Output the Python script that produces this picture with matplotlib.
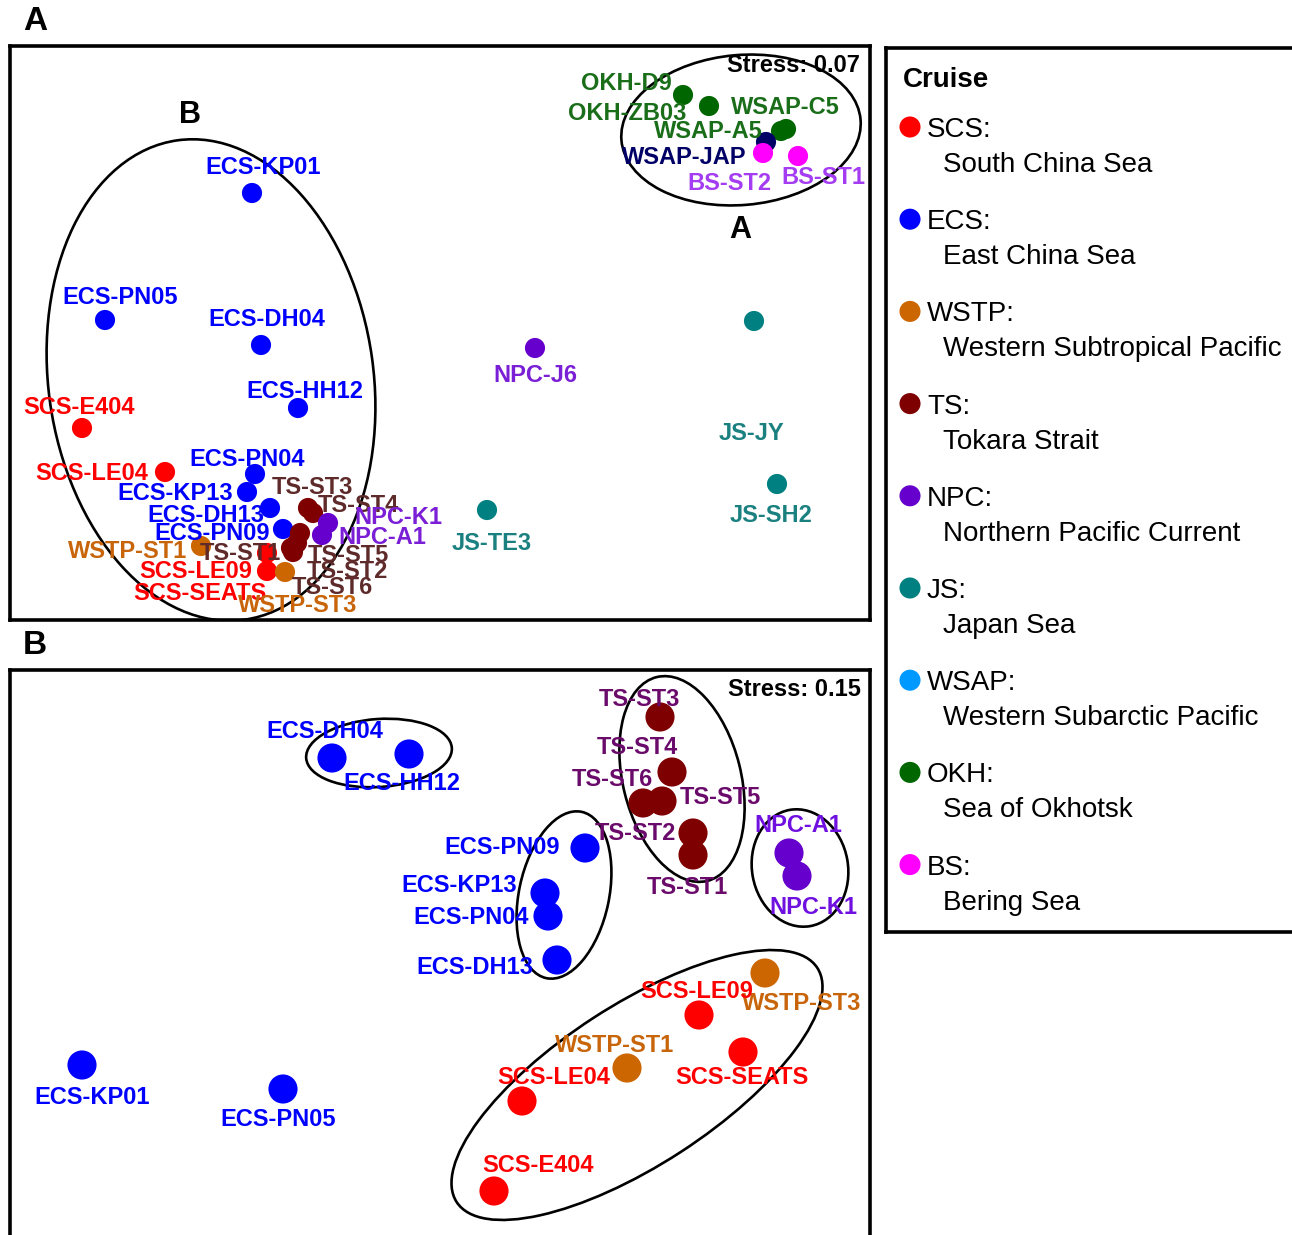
"""NMDS ordination of cruise stations: panel A (all stations) and panel B (subset),
with one shared cruise legend on the right.

Station coordinates were read off the original figure, so they are kept in the
figure's pixel frame (x to the right, y downward).
"""

import matplotlib
matplotlib.use("Agg")
from matplotlib import pyplot as plt
from matplotlib.patches import Ellipse

W, H = 1292, 1235

# ---- panel A: all stations -------------------------------------------------
A_NAMES = ["OKH-D9", "OKH-ZB03", "WSAP-C5", "WSAP-A5", "WSAP-JAP", "BS-ST2", "BS-ST1",
           "JS-JY", "JS-SH2", "JS-TE3", "NPC-J6",
           "ECS-KP01", "ECS-PN05", "ECS-DH04", "ECS-HH12", "SCS-E404", "SCS-LE04",
           "ECS-PN04", "ECS-KP13", "ECS-DH13", "ECS-PN09",
           "TS-ST3", "TS-ST4", "NPC-K1", "NPC-A1", "TS-ST5", "TS-ST2", "TS-ST6", "TS-ST1",
           "SCS-SEATS", "SCS-LE09", "WSTP-ST1", "WSTP-ST3"]
A_GROUPS = ["OKH", "OKH", "WSAP", "WSAP", "WSAP", "BS", "BS",
            "JS", "JS", "JS", "NPC",
            "ECS", "ECS", "ECS", "ECS", "SCS", "SCS",
            "ECS", "ECS", "ECS", "ECS",
            "TS", "TS", "NPC", "NPC", "TS", "TS", "TS", "TS",
            "SCS", "SCS", "WSTP", "WSTP"]
A_X = [683, 709, 786, 781, 766, 763, 798,
       754, 777, 487, 535,
       252, 105, 261, 298, 82, 165,
       255, 247, 270, 283,
       308, 313, 328, 322, 300, 297, 293, 291,
       267, 267, 201, 285]
A_Y = [95, 106, 129, 131, 142, 153, 156,
       321, 484, 510, 348,
       193, 320, 345, 408, 428, 472,
       474, 492, 508, 529,
       508, 513, 523, 535, 533, 543, 552, 548,
       553, 571, 546, 572]

# ---- panel B: subset without the northern cruises ---------------------------
B_NAMES = ["ECS-DH04", "ECS-HH12", "TS-ST3", "TS-ST4", "TS-ST6", "TS-ST5", "TS-ST2", "TS-ST1",
           "NPC-A1", "NPC-K1", "ECS-PN09", "ECS-KP13", "ECS-PN04", "ECS-DH13",
           "WSTP-ST3", "SCS-LE09", "SCS-SEATS", "WSTP-ST1", "SCS-LE04", "SCS-E404",
           "ECS-KP01", "ECS-PN05"]
B_GROUPS = ["ECS", "ECS", "TS", "TS", "TS", "TS", "TS", "TS",
            "NPC", "NPC", "ECS", "ECS", "ECS", "ECS",
            "WSTP", "SCS", "SCS", "WSTP", "SCS", "SCS",
            "ECS", "ECS"]
B_X = [332, 409, 660, 672, 643, 662, 693, 693,
       789, 797, 585, 545, 548, 557,
       765, 699, 743, 627, 522, 494,
       82, 283]
B_Y = [758, 754, 717, 772, 803, 801, 833, 855,
       853, 876, 848, 893, 916, 960,
       973, 1015, 1052, 1068, 1101, 1191,
       1065, 1089]

# ---- legend ---------------------------------------------------------------
CRUISES = ["SCS", "ECS", "WSTP", "TS", "NPC", "JS", "WSAP", "OKH", "BS"]
CRUISE_NAMES = ["South China Sea", "East China Sea", "Western Subtropical Pacific",
                "Tokara Strait", "Northern Pacific Current", "Japan Sea",
                "Western Subarctic Pacific", "Sea of Okhotsk", "Bering Sea"]

# cruise -> dot colour
DOT_COLORS = {"SCS": "#ff0000", "ECS": "#0000ff", "WSTP": "#cc6600", "TS": "#7f0000",
              "NPC": "#6600cc", "JS": "#008080", "WSAP": "#0099ff", "OKH": "#006600",
              "BS": "#ff00ff"}
# a few stations were drawn in a colour other than their cruise colour
DOT_OVERRIDE = {"WSAP-C5": "#006600", "WSAP-A5": "#006600", "WSAP-JAP": "#000066"}

LABEL_COLORS_A = {"SCS": "#ff0000", "ECS": "#0000ff", "WSTP": "#c8650a", "TS": "#5e2a2a",
                  "NPC": "#7a1fd6", "JS": "#1a8080", "WSAP": "#1a6e1a", "OKH": "#1a6e1a",
                  "BS": "#a43cf2"}
LABEL_COLORS_B = dict(LABEL_COLORS_A, TS="#6a0a6a", NPC="#7010e0")
LABEL_OVERRIDE = {"WSAP-JAP": "#000066"}

# label centre relative to its dot (pixels, y downward)
A_LABEL_OFFSET = {
    "OKH-D9": (-57, -12), "OKH-ZB03": (-82, 8), "WSAP-C5": (-1, -21), "WSAP-A5": (-73, 0),
    "WSAP-JAP": (-82, 15), "BS-ST2": (-34, 30), "BS-ST1": (25, 22), "JS-JY": (-2, 112),
    "JS-SH2": (-6, 31), "JS-TE3": (5, 34), "NPC-J6": (0, 27), "ECS-KP01": (11, -25),
    "ECS-PN05": (15, -23), "ECS-DH04": (6, -26), "ECS-HH12": (7, -17), "SCS-E404": (-3, -20),
    "SCS-LE04": (-73, 1), "ECS-PN04": (-8, -15), "ECS-KP13": (-72, 1), "ECS-DH13": (-64, 7),
    "ECS-PN09": (-71, 5), "TS-ST3": (4, -20), "TS-ST4": (45, -8), "NPC-K1": (70, -5),
    "NPC-A1": (60, 2), "TS-ST5": (48, 22), "TS-ST2": (50, 28), "TS-ST6": (39, 36),
    "TS-ST1": (-51, 5), "SCS-SEATS": (-67, 40), "SCS-LE09": (-71, 0), "WSTP-ST1": (-73, 6),
    "WSTP-ST3": (13, 33),
}
B_LABEL_OFFSET = {
    "ECS-DH04": (-7, -27), "ECS-HH12": (-7, 30), "TS-ST3": (-21, -17), "TS-ST4": (-35, -24),
    "TS-ST6": (-31, -23), "TS-ST5": (58, -3), "TS-ST2": (-58, 1), "TS-ST1": (-6, 32),
    "NPC-A1": (9, -28), "NPC-K1": (16, 32), "ECS-PN09": (-83, -1), "ECS-KP13": (-86, -7),
    "ECS-PN04": (-77, 2), "ECS-DH13": (-82, 7), "WSTP-ST3": (37, 31), "SCS-LE09": (-2, -24),
    "SCS-SEATS": (-1, 26), "WSTP-ST1": (-12, -23), "SCS-LE04": (32, -23), "SCS-E404": (44, -26),
    "ECS-KP01": (10, 32), "ECS-PN05": (-5, 31),
}

# cluster ellipses: centre x, centre y, width, height, on-screen angle (deg, ccw)
A_ELLIPSES = [(211, 380, 325, 484, 8), (741, 130, 240, 150, 5)]
B_ELLIPSES = [(379, 753, 146, 68, 4), (564, 895, 90, 170, -12), (682, 779, 118, 210, 14),
              (800, 868, 96, 118, 10), (637, 1085, 430, 160, 33)]

FONT = ["Liberation Sans", "DejaVu Sans"]


def px_axes(fig, x0, y0, x1, y1):
    """Axes whose data units are the figure's pixels (y downward)."""
    ax = fig.add_axes([x0 / W, 1 - y1 / H, (x1 - x0) / W, (y1 - y0) / H])
    ax.set_xlim(x0, x1)
    ax.set_ylim(y1, y0)
    ax.set_xticks([])
    ax.set_yticks([])
    for sp in ax.spines.values():
        sp.set_linewidth(2.6)
    return ax


def draw_panel(ax, names, groups, xs, ys, offsets, label_colors, ellipses, dot_size, stress, stress_xy):
    for cx, cy, w, h, ang in ellipses:
        ax.add_patch(Ellipse((cx, cy), w, h, angle=-ang, fill=False, edgecolor="black",
                             linewidth=1.9, zorder=1))
    colors = [DOT_OVERRIDE.get(n, DOT_COLORS[g]) for n, g in zip(names, groups)]
    ax.scatter(xs, ys, s=dot_size, c=colors, edgecolors="none", zorder=2)
    for n, g, x, y in zip(names, groups, xs, ys):
        dx, dy = offsets[n]
        ax.text(x + dx, y + dy, n, ha="center", va="center", fontsize=17, fontweight="bold",
                color=LABEL_OVERRIDE.get(n, label_colors[g]), zorder=3)
    ax.text(stress_xy[0], stress_xy[1], f"Stress: {stress:.2f}", ha="right", va="center",
            fontsize=17, fontweight="bold", color="black", zorder=4)


def main():
    plt.rcParams.update({"font.family": FONT})
    fig = plt.figure(figsize=(W / 100, H / 100), dpi=100)

    ax_a = px_axes(fig, 10, 46, 870, 620)
    draw_panel(ax_a, A_NAMES, A_GROUPS, A_X, A_Y, A_LABEL_OFFSET, LABEL_COLORS_A,
               A_ELLIPSES, 210, 0.07, (860, 66))
    ax_a.text(190, 115, "B", ha="center", va="center", fontsize=22, fontweight="bold")
    ax_a.text(740, 230, "A", ha="center", va="center", fontsize=22, fontweight="bold")

    ax_b = px_axes(fig, 10, 670, 870, 1240)
    draw_panel(ax_b, B_NAMES, B_GROUPS, B_X, B_Y, B_LABEL_OFFSET, LABEL_COLORS_B,
               B_ELLIPSES, 440, 0.15, (861, 689))

    fig.text(35 / W, 1 - 22 / H, "A", ha="center", va="center", fontsize=24, fontweight="bold")
    fig.text(35 / W, 1 - 645 / H, "B", ha="center", va="center", fontsize=24, fontweight="bold")

    # legend drawn as its own framed box
    ax_l = px_axes(fig, 886, 48, 1310, 932)
    ax_l.text(903, 80, "Cruise", ha="left", va="center", fontsize=20, fontweight="bold")
    rows = range(len(CRUISES))
    ys = [127 + 92.2 * i for i in rows]
    ax_l.scatter([910] * len(CRUISES), ys, s=230, c=[DOT_COLORS[c] for c in CRUISES],
                 edgecolors="none", clip_on=False)
    for c, desc, y in zip(CRUISES, CRUISE_NAMES, ys):
        ax_l.text(927, y + 3, f"{c}:", ha="left", va="center", fontsize=20)
        ax_l.text(943, y + 38, desc, ha="left", va="center", fontsize=20)

    fig.savefig("out.png", dpi=100)
    plt.close(fig)


if __name__ == "__main__":
    main()
